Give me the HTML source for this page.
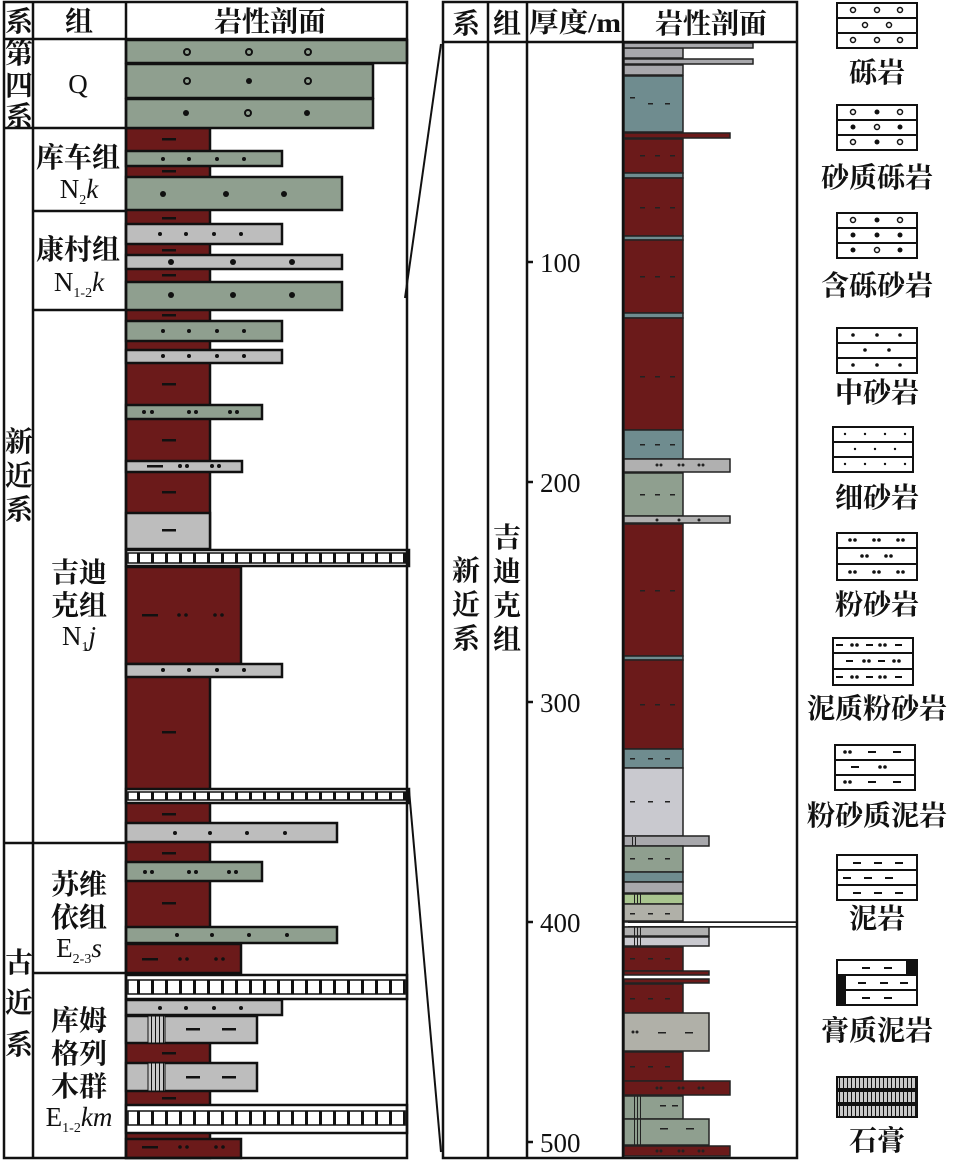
<!DOCTYPE html>
<html><head><meta charset="utf-8"><style>
html,body{margin:0;padding:0;background:#fff;}
svg{display:block;}
text{font-family:"Liberation Serif","Noto Serif CJK SC",serif;fill:#111;}
</style></head><body>
<svg width="954" height="1160" viewBox="0 0 954 1160" xmlns="http://www.w3.org/2000/svg">
<defs>
<pattern id="gy" x="0" y="0" width="14" height="10" patternUnits="userSpaceOnUse">
<rect width="14" height="10" fill="#fff"/><rect x="11" width="3" height="10" fill="#111"/>
</pattern>
<pattern id="gy2" x="0" y="0" width="4" height="6" patternUnits="userSpaceOnUse">
<rect width="4" height="6" fill="#c8c8c8"/><rect x="3" width="1" height="6" fill="#111"/>
</pattern>
</defs>
<g stroke="#111" stroke-width="2.5">
<rect x="126" y="128" width="84" height="1030" fill="#6b1a1a"/>
<g stroke-width="2.5">
<rect x="126" y="40" width="281" height="23" fill="#8f9f8f"/>
<rect x="126" y="64" width="247" height="34" fill="#8f9f8f"/>
<rect x="126" y="99" width="247" height="29" fill="#8f9f8f"/>
<rect x="126" y="151" width="156" height="15" fill="#8f9f8f"/>
<rect x="126" y="177" width="216" height="33" fill="#8f9f8f"/>
<rect x="126" y="224" width="156" height="20" fill="#bdbdbd"/>
<rect x="126" y="255" width="216" height="14" fill="#bdbdbd"/>
<rect x="126" y="282" width="216" height="28" fill="#8f9f8f"/>
<rect x="126" y="321" width="156" height="20" fill="#8f9f8f"/>
<rect x="126" y="350" width="156" height="13" fill="#bdbdbd"/>
<rect x="126" y="405" width="136" height="14" fill="#8f9f8f"/>
<rect x="126" y="461" width="116" height="11" fill="#bdbdbd"/>
<rect x="126" y="513" width="84" height="36" fill="#bdbdbd"/>
<rect x="126" y="567" width="115" height="97" fill="#6b1a1a"/>
<rect x="126" y="664" width="156" height="13" fill="#bdbdbd"/>
<rect x="126" y="823" width="211" height="19" fill="#bdbdbd"/>
<rect x="126" y="862" width="136" height="19" fill="#8f9f8f"/>
<rect x="126" y="927" width="211" height="16" fill="#8f9f8f"/>
<rect x="126" y="944" width="115" height="29" fill="#6b1a1a"/>
<rect x="126" y="1000" width="156" height="15" fill="#bdbdbd"/>
<rect x="126" y="1016" width="131" height="27" fill="#bdbdbd"/>
<rect x="126" y="1063" width="131" height="28" fill="#bdbdbd"/>
<rect x="126" y="1139" width="115" height="19" fill="#6b1a1a"/>
<rect x="126" y="550" width="283" height="16" fill="#fff"/>
<rect x="128" y="553" width="279" height="10" fill="url(#gy)" stroke-width="1.5"/>
<rect x="126" y="789" width="283" height="14" fill="#fff"/>
<rect x="128" y="792" width="279" height="8" fill="url(#gy)" stroke-width="1.5"/>
<rect x="126" y="975" width="281" height="24" fill="#fff"/>
<rect x="128" y="980" width="277" height="14" fill="url(#gy)" stroke-width="1.5"/>
<rect x="126" y="1105" width="281" height="28" fill="#fff"/>
<rect x="128" y="1111" width="277" height="14" fill="url(#gy)" stroke-width="1.5"/>
</g>
<rect x="148" y="1016" width="17" height="27" fill="url(#gy2)" stroke-width="1"/>
<rect x="148" y="1063" width="17" height="28" fill="url(#gy2)" stroke-width="1"/>
<g fill="none">
<rect x="4" y="2" width="403" height="1156"/>
<line x1="4" y1="39" x2="407" y2="39"/>
<line x1="33" y1="2" x2="33" y2="1158"/>
<line x1="126" y1="2" x2="126" y2="1158"/>
<line x1="4" y1="128" x2="126" y2="128"/>
<line x1="33" y1="211" x2="126" y2="211"/>
<line x1="33" y1="310" x2="126" y2="310"/>
<line x1="4" y1="843" x2="126" y2="843"/>
<line x1="33" y1="973" x2="126" y2="973"/>
</g>
</g>
<g fill="#111" stroke="none">
<g fill="none" stroke="#111" stroke-width="2"><circle cx="187" cy="52" r="3"/><circle cx="249" cy="52" r="3"/><circle cx="308" cy="52" r="3"/><circle cx="187" cy="81" r="3"/><circle cx="308" cy="81" r="3"/><circle cx="248" cy="113" r="3"/></g>
<circle cx="249" cy="81" r="3"/><circle cx="186" cy="113" r="3"/><circle cx="307" cy="113" r="3"/>
<circle cx="163" cy="159" r="2"/><circle cx="189" cy="159" r="2"/><circle cx="217" cy="159" r="2"/><circle cx="244" cy="159" r="2"/>
<circle cx="163" cy="194" r="3"/><circle cx="226" cy="194" r="3"/><circle cx="284" cy="194" r="3"/>
<circle cx="160" cy="234" r="2"/><circle cx="186" cy="234" r="2"/><circle cx="214" cy="234" r="2"/><circle cx="241" cy="234" r="2"/>
<circle cx="171" cy="262" r="3"/><circle cx="233" cy="262" r="3"/><circle cx="292" cy="262" r="3"/>
<circle cx="171" cy="295" r="3"/><circle cx="233" cy="295" r="3"/><circle cx="292" cy="295" r="3"/>
<circle cx="163" cy="331" r="2"/><circle cx="189" cy="331" r="2"/><circle cx="217" cy="331" r="2"/><circle cx="244" cy="331" r="2"/>
<circle cx="163" cy="356" r="2"/><circle cx="189" cy="356" r="2"/><circle cx="217" cy="356" r="2"/><circle cx="244" cy="356" r="2"/>
<circle cx="144" cy="412" r="2"/><circle cx="152" cy="412" r="2"/><circle cx="189" cy="412" r="2"/><circle cx="196" cy="412" r="2"/><circle cx="230" cy="412" r="2"/><circle cx="237" cy="412" r="2"/>
<circle cx="180" cy="466" r="2"/><circle cx="187" cy="466" r="2"/><circle cx="212" cy="466" r="2"/><circle cx="219" cy="466" r="2"/>
<circle cx="179" cy="615" r="1.8"/><circle cx="186" cy="615" r="1.8"/><circle cx="215" cy="615" r="1.8"/><circle cx="222" cy="615" r="1.8"/>
<circle cx="163" cy="670" r="2"/><circle cx="189" cy="670" r="2"/><circle cx="217" cy="670" r="2"/><circle cx="244" cy="670" r="2"/>
<circle cx="175" cy="833" r="2"/><circle cx="210" cy="833" r="2"/><circle cx="247" cy="833" r="2"/><circle cx="285" cy="833" r="2"/>
<circle cx="145" cy="872" r="2"/><circle cx="152" cy="872" r="2"/><circle cx="189" cy="872" r="2"/><circle cx="196" cy="872" r="2"/><circle cx="229" cy="872" r="2"/><circle cx="236" cy="872" r="2"/>
<circle cx="177" cy="935" r="2"/><circle cx="212" cy="935" r="2"/><circle cx="249" cy="935" r="2"/><circle cx="287" cy="935" r="2"/>
<circle cx="180" cy="959" r="1.8"/><circle cx="187" cy="959" r="1.8"/><circle cx="216" cy="959" r="1.8"/><circle cx="223" cy="959" r="1.8"/>
<circle cx="160" cy="1008" r="2"/><circle cx="186" cy="1008" r="2"/><circle cx="214" cy="1008" r="2"/><circle cx="241" cy="1008" r="2"/>
<circle cx="180" cy="1147" r="1.8"/><circle cx="187" cy="1147" r="1.8"/><circle cx="216" cy="1147" r="1.8"/><circle cx="223" cy="1147" r="1.8"/>
<rect x="162" y="138" width="14" height="2.5"/><rect x="162" y="170" width="14" height="2.5"/><rect x="162" y="217" width="14" height="2.5"/><rect x="162" y="249" width="14" height="2.5"/><rect x="162" y="274" width="14" height="2.5"/><rect x="162" y="314" width="14" height="2.5"/><rect x="162" y="383" width="14" height="2.5"/><rect x="162" y="439" width="14" height="2.5"/><rect x="147" y="465" width="16" height="2.5"/><rect x="162" y="491" width="14" height="2.5"/><rect x="162" y="529" width="14" height="2.5"/><rect x="142" y="614" width="16" height="2.5"/><rect x="162" y="731" width="14" height="2.5"/><rect x="162" y="813" width="14" height="2.5"/><rect x="162" y="852" width="14" height="2.5"/><rect x="162" y="902" width="14" height="2.5"/><rect x="142" y="958" width="16" height="2.5"/><rect x="186" y="1028" width="14" height="2.5"/><rect x="222" y="1028" width="14" height="2.5"/><rect x="162" y="1052" width="14" height="2.5"/><rect x="186" y="1076" width="14" height="2.5"/><rect x="222" y="1076" width="14" height="2.5"/><rect x="162" y="1097" width="14" height="2.5"/><rect x="142" y="1146" width="16" height="2.5"/>
</g>
<g font-size="28" font-weight="bold" text-anchor="middle">
<text x="19" y="31">系</text><text x="79" y="31">组</text><text x="270" y="31">岩性剖面</text>
<text x="19" y="63">第</text><text x="19" y="95">四</text><text x="19" y="126">系</text>
<text x="19" y="451">新</text><text x="19" y="485">近</text><text x="19" y="519">系</text>
<text x="19" y="972">古</text><text x="19" y="1012">近</text><text x="19" y="1054">系</text>
<text x="78" y="167">库车组</text>
<text x="78" y="259">康村组</text>
<text x="79" y="582">吉迪</text><text x="79" y="615">克组</text>
<text x="79" y="894">苏维</text><text x="79" y="927">依组</text>
<text x="79" y="1030">库姆</text><text x="79" y="1063">格列</text><text x="79" y="1096">木群</text>
</g>
<g font-size="27" text-anchor="middle">
<text x="78" y="93">Q</text>
<text x="79" y="198">N<tspan font-size="14" dy="6">2</tspan><tspan font-style="italic" dy="-6">k</tspan></text>
<text x="79" y="291">N<tspan font-size="14" dy="6">1-2</tspan><tspan font-style="italic" dy="-6">k</tspan></text>
<text x="79" y="645">N<tspan font-size="14" dy="6">1</tspan><tspan font-style="italic" dy="-6">j</tspan></text>
<text x="79" y="957">E<tspan font-size="14" dy="6">2-3</tspan><tspan font-style="italic" dy="-6">s</tspan></text>
<text x="79" y="1126">E<tspan font-size="14" dy="6">1-2</tspan><tspan font-style="italic" dy="-6">km</tspan></text>
</g>
<g stroke="#111" stroke-width="2"><line x1="405" y1="298" x2="441" y2="44"/><line x1="409" y1="790" x2="441" y2="1152"/></g>
<g stroke="#222" stroke-width="1.5">
<rect x="624" y="48" width="59" height="10" fill="#a8a8ac"/>
<rect x="624" y="65" width="59" height="10" fill="#a8a8ac"/>
<rect x="624" y="43" width="129" height="5" fill="#a8a8ac"/>
<rect x="624" y="59" width="129" height="5" fill="#a8a8ac"/>
<rect x="624" y="76" width="59" height="56" fill="#6f8c8f"/>
<rect x="624" y="133" width="106" height="5" fill="#6b1a1a"/>
<rect x="624" y="139" width="59" height="34" fill="#6b1a1a"/>
<rect x="624" y="173" width="59" height="5" fill="#6f8c8f"/>
<rect x="624" y="178" width="59" height="58" fill="#6b1a1a"/>
<rect x="624" y="236" width="59" height="4" fill="#6f8c8f"/>
<rect x="624" y="240" width="59" height="73" fill="#6b1a1a"/>
<rect x="624" y="313" width="59" height="5" fill="#6f8c8f"/>
<rect x="624" y="318" width="59" height="112" fill="#6b1a1a"/>
<rect x="624" y="430" width="59" height="29" fill="#6f8c8f"/>
<rect x="624" y="459" width="106" height="13" fill="#b0b0b0"/>
<rect x="624" y="473" width="59" height="43" fill="#8f9f8f"/>
<rect x="624" y="516" width="106" height="7" fill="#b0b0b0"/>
<rect x="624" y="524" width="59" height="132" fill="#6b1a1a"/>
<rect x="624" y="656" width="59" height="4" fill="#6f8c8f"/>
<rect x="624" y="660" width="59" height="89" fill="#6b1a1a"/>
<rect x="624" y="749" width="59" height="19" fill="#6f8c8f"/>
<rect x="624" y="768" width="59" height="68" fill="#c9c9cf"/>
<rect x="624" y="836" width="85" height="10" fill="#a8a8ac"/>
<rect x="624" y="846" width="59" height="26" fill="#8f9f8f"/>
<rect x="624" y="872" width="59" height="10" fill="#6f8c8f"/>
<rect x="624" y="882" width="59" height="11" fill="#a8a8ac"/>
<rect x="624" y="894" width="59" height="10" fill="#a9c58f"/>
<rect x="624" y="904" width="59" height="17" fill="#b0b0a8"/>
<rect x="624" y="922" width="173" height="5" fill="#fff"/>
<rect x="624" y="927" width="85" height="9" fill="#b0b0b0"/>
<rect x="624" y="937" width="85" height="9" fill="#c9c9cf"/>
<rect x="624" y="947" width="59" height="24" fill="#6b1a1a"/>
<rect x="624" y="971" width="85" height="4" fill="#6b1a1a"/>
<rect x="624" y="979" width="85" height="4" fill="#6b1a1a"/>
<rect x="624" y="984" width="59" height="29" fill="#6b1a1a"/>
<rect x="624" y="1013" width="85" height="38" fill="#b0b0a8"/>
<rect x="624" y="1052" width="59" height="29" fill="#6b1a1a"/>
<rect x="624" y="1081" width="106" height="14" fill="#6b1a1a"/>
<rect x="624" y="1096" width="59" height="23" fill="#8f9f8f"/>
<rect x="624" y="1119" width="85" height="26" fill="#8f9f8f"/>
<rect x="624" y="1146" width="106" height="10" fill="#6b1a1a"/>
</g>
<g fill="#222">
<rect x="628" y="922" width="169" height="1"/><rect x="628" y="926" width="169" height="1"/>
<rect x="632" y="837" width="1" height="9"/><rect x="635" y="837" width="1" height="9"/>
<rect x="634" y="894" width="1" height="10"/><rect x="637" y="894" width="1" height="10"/><rect x="640" y="894" width="1" height="10"/>
<rect x="634" y="927" width="1" height="19"/><rect x="637" y="927" width="1" height="19"/><rect x="640" y="927" width="1" height="19"/>
<rect x="634" y="1096" width="1" height="50"/><rect x="637" y="1096" width="1" height="50"/><rect x="640" y="1096" width="1" height="50"/>
<rect x="630" y="97" width="5" height="1.5"/><rect x="648" y="103" width="5" height="1.5"/><rect x="665" y="103" width="5" height="1.5"/>
<rect x="640" y="155" width="5" height="1.5"/><rect x="655" y="155" width="5" height="1.5"/><rect x="670" y="155" width="5" height="1.5"/>
<rect x="640" y="207" width="5" height="1.5"/><rect x="655" y="207" width="5" height="1.5"/><rect x="670" y="207" width="5" height="1.5"/>
<rect x="640" y="276" width="5" height="1.5"/><rect x="655" y="276" width="5" height="1.5"/><rect x="670" y="276" width="5" height="1.5"/>
<rect x="640" y="376" width="5" height="1.5"/><rect x="655" y="376" width="5" height="1.5"/><rect x="670" y="376" width="5" height="1.5"/>
<rect x="640" y="444" width="5" height="1.5"/><rect x="655" y="444" width="5" height="1.5"/><rect x="670" y="444" width="5" height="1.5"/>
<rect x="640" y="494" width="5" height="1.5"/><rect x="655" y="494" width="5" height="1.5"/><rect x="670" y="494" width="5" height="1.5"/>
<rect x="640" y="590" width="5" height="1.5"/><rect x="655" y="590" width="5" height="1.5"/><rect x="670" y="590" width="5" height="1.5"/>
<rect x="640" y="704" width="5" height="1.5"/><rect x="655" y="704" width="5" height="1.5"/><rect x="670" y="704" width="5" height="1.5"/>
<rect x="630" y="758" width="5" height="1.5"/><rect x="648" y="758" width="5" height="1.5"/><rect x="665" y="758" width="5" height="1.5"/>
<rect x="630" y="801" width="5" height="1.5"/><rect x="648" y="801" width="5" height="1.5"/><rect x="665" y="801" width="5" height="1.5"/>
<rect x="630" y="858" width="5" height="1.5"/><rect x="648" y="858" width="5" height="1.5"/><rect x="665" y="858" width="5" height="1.5"/>
<rect x="630" y="913" width="5" height="1.5"/><rect x="648" y="913" width="5" height="1.5"/><rect x="665" y="913" width="5" height="1.5"/>
<rect x="630" y="958" width="5" height="1.5"/><rect x="648" y="958" width="5" height="1.5"/><rect x="665" y="958" width="5" height="1.5"/>
<rect x="630" y="998" width="5" height="1.5"/><rect x="648" y="998" width="5" height="1.5"/><rect x="665" y="998" width="5" height="1.5"/>
<rect x="630" y="1066" width="5" height="1.5"/><rect x="648" y="1066" width="5" height="1.5"/><rect x="665" y="1066" width="5" height="1.5"/>
<rect x="658" y="1032" width="8" height="1.5"/><rect x="685" y="1032" width="8" height="1.5"/>
<circle cx="633" cy="1032" r="1.5"/><circle cx="637" cy="1032" r="1.5"/>
<circle cx="657" cy="1088" r="1.5"/><circle cx="661" cy="1088" r="1.5"/><circle cx="679" cy="1088" r="1.5"/><circle cx="683" cy="1088" r="1.5"/><circle cx="699" cy="1088" r="1.5"/><circle cx="703" cy="1088" r="1.5"/>
<circle cx="657" cy="1151" r="1.5"/><circle cx="661" cy="1151" r="1.5"/><circle cx="679" cy="1151" r="1.5"/><circle cx="683" cy="1151" r="1.5"/><circle cx="699" cy="1151" r="1.5"/><circle cx="703" cy="1151" r="1.5"/>
<circle cx="657" cy="465" r="1.5"/><circle cx="661" cy="465" r="1.5"/><circle cx="679" cy="465" r="1.5"/><circle cx="683" cy="465" r="1.5"/><circle cx="699" cy="465" r="1.5"/><circle cx="703" cy="465" r="1.5"/>
<circle cx="657" cy="520" r="1.5"/><circle cx="679" cy="520" r="1.5"/><circle cx="699" cy="520" r="1.5"/>
<rect x="660" y="1128" width="8" height="1.5"/><rect x="686" y="1128" width="8" height="1.5"/>
<rect x="660" y="1105" width="6" height="1.5"/><rect x="672" y="1105" width="6" height="1.5"/>
</g>
<g stroke="#111" stroke-width="2.5" fill="none">
<rect x="443" y="2" width="354" height="1156"/>
<line x1="443" y1="42" x2="797" y2="42"/>
<line x1="488" y1="2" x2="488" y2="1158"/>
<line x1="527" y1="2" x2="527" y2="1158"/>
<line x1="623" y1="2" x2="623" y2="1158"/>
<line x1="527" y1="262" x2="533" y2="262"/><line x1="527" y1="482" x2="533" y2="482"/><line x1="527" y1="702" x2="533" y2="702"/><line x1="527" y1="922" x2="533" y2="922"/><line x1="527" y1="1142" x2="533" y2="1142"/>
</g>
<g font-size="28" font-weight="bold" text-anchor="middle">
<text x="466" y="33">系</text><text x="507" y="33">组</text><text x="711" y="33">岩性剖面</text>
<text x="466" y="580">新</text><text x="466" y="614">近</text><text x="466" y="648">系</text>
<text x="507" y="547">吉</text><text x="507" y="581">迪</text><text x="507" y="615">克</text><text x="507" y="649">组</text>
</g>
<g font-size="27">
<text x="529" y="32" font-weight="bold" textLength="92" lengthAdjust="spacingAndGlyphs">厚度/m</text>
<text x="540" y="272">100</text><text x="540" y="492">200</text><text x="540" y="712">300</text><text x="540" y="932">400</text><text x="540" y="1152">500</text>
</g>
<g stroke="#111" stroke-width="2" fill="#fff">
<rect x="837" y="3" width="80" height="45"/><line x1="837" y1="18" x2="917" y2="18"/><line x1="837" y1="33" x2="917" y2="33"/>
<rect x="837" y="105" width="80" height="45"/><line x1="837" y1="120" x2="917" y2="120"/><line x1="837" y1="135" x2="917" y2="135"/>
<rect x="837" y="213" width="80" height="45"/><line x1="837" y1="228" x2="917" y2="228"/><line x1="837" y1="243" x2="917" y2="243"/>
<rect x="837" y="328" width="80" height="45"/><line x1="837" y1="343" x2="917" y2="343"/><line x1="837" y1="358" x2="917" y2="358"/>
<rect x="833" y="427" width="80" height="45"/><line x1="833" y1="442" x2="913" y2="442"/><line x1="833" y1="457" x2="913" y2="457"/>
<rect x="837" y="533" width="80" height="47"/><line x1="837" y1="548" x2="917" y2="548"/><line x1="837" y1="564" x2="917" y2="564"/>
<rect x="833" y="638" width="80" height="47"/><line x1="833" y1="653" x2="913" y2="653"/><line x1="833" y1="669" x2="913" y2="669"/>
<rect x="835" y="745" width="80" height="45"/><line x1="835" y1="760" x2="915" y2="760"/><line x1="835" y1="775" x2="915" y2="775"/>
<rect x="837" y="855" width="80" height="45"/><line x1="837" y1="870" x2="917" y2="870"/><line x1="837" y1="885" x2="917" y2="885"/>
<rect x="837" y="960" width="80" height="45"/><line x1="837" y1="975" x2="917" y2="975"/><line x1="837" y1="990" x2="917" y2="990"/>
<rect x="837" y="1077" width="80" height="40" fill="url(#gy2)"/><line x1="837" y1="1090" x2="917" y2="1090" stroke-width="4"/><line x1="837" y1="1104" x2="917" y2="1104" stroke-width="4"/>
</g>
<g fill="#111">
<rect x="838" y="976" width="8" height="14"/><rect x="906" y="961" width="10" height="14"/><rect x="838" y="991" width="8" height="14"/>
</g>
<g fill="none" stroke="#111" stroke-width="1.5">
<circle cx="853" cy="10" r="2.5"/><circle cx="877" cy="10" r="2.5"/><circle cx="900" cy="10" r="2.5"/><circle cx="865" cy="25" r="2.5"/><circle cx="889" cy="25" r="2.5"/><circle cx="853" cy="40" r="2.5"/><circle cx="877" cy="40" r="2.5"/><circle cx="900" cy="40" r="2.5"/>
<circle cx="853" cy="112" r="2.5"/><circle cx="900" cy="112" r="2.5"/><circle cx="853" cy="142" r="2.5"/><circle cx="900" cy="142" r="2.5"/><circle cx="877" cy="127" r="2.5"/>
<circle cx="853" cy="220" r="2.5"/><circle cx="900" cy="220" r="2.5"/><circle cx="877" cy="250" r="2.5"/>
</g>
<g fill="#111">
<circle cx="877" cy="112" r="2.5"/><circle cx="877" cy="142" r="2.5"/><circle cx="853" cy="127" r="2.5"/><circle cx="900" cy="127" r="2.5"/>
<circle cx="877" cy="220" r="2.5"/><circle cx="853" cy="235" r="2.5"/><circle cx="877" cy="235" r="2.5"/><circle cx="900" cy="235" r="2.5"/><circle cx="853" cy="250" r="2.5"/><circle cx="900" cy="250" r="2.5"/>
<circle cx="853" cy="335" r="1.8"/><circle cx="877" cy="335" r="1.8"/><circle cx="900" cy="335" r="1.8"/><circle cx="865" cy="350" r="1.8"/><circle cx="889" cy="350" r="1.8"/><circle cx="853" cy="365" r="1.8"/><circle cx="877" cy="365" r="1.8"/><circle cx="900" cy="365" r="1.8"/>
<circle cx="845" cy="434" r="1.2"/><circle cx="865" cy="434" r="1.2"/><circle cx="885" cy="434" r="1.2"/><circle cx="905" cy="434" r="1.2"/><circle cx="855" cy="449" r="1.2"/><circle cx="875" cy="449" r="1.2"/><circle cx="895" cy="449" r="1.2"/><circle cx="845" cy="464" r="1.2"/><circle cx="865" cy="464" r="1.2"/><circle cx="885" cy="464" r="1.2"/><circle cx="905" cy="464" r="1.2"/>
<circle cx="850" cy="540" r="1.8"/><circle cx="855" cy="540" r="1.8"/><circle cx="874" cy="540" r="1.8"/><circle cx="879" cy="540" r="1.8"/><circle cx="898" cy="540" r="1.8"/><circle cx="903" cy="540" r="1.8"/>
<circle cx="862" cy="556" r="1.8"/><circle cx="867" cy="556" r="1.8"/><circle cx="886" cy="556" r="1.8"/><circle cx="891" cy="556" r="1.8"/>
<circle cx="850" cy="572" r="1.8"/><circle cx="855" cy="572" r="1.8"/><circle cx="874" cy="572" r="1.8"/><circle cx="879" cy="572" r="1.8"/><circle cx="898" cy="572" r="1.8"/><circle cx="903" cy="572" r="1.8"/>
<rect x="836" y="644" width="7" height="2"/><circle cx="852" cy="645" r="1.8"/><circle cx="857" cy="645" r="1.8"/><rect x="866" y="644" width="7" height="2"/><circle cx="880" cy="645" r="1.8"/><circle cx="885" cy="645" r="1.8"/><rect x="895" y="644" width="7" height="2"/>
<rect x="846" y="660" width="7" height="2"/><circle cx="864" cy="661" r="1.8"/><circle cx="869" cy="661" r="1.8"/><rect x="878" y="660" width="7" height="2"/><circle cx="894" cy="661" r="1.8"/><circle cx="899" cy="661" r="1.8"/>
<rect x="836" y="676" width="7" height="2"/><circle cx="852" cy="677" r="1.8"/><circle cx="857" cy="677" r="1.8"/><rect x="866" y="676" width="7" height="2"/><circle cx="880" cy="677" r="1.8"/><circle cx="885" cy="677" r="1.8"/><rect x="895" y="676" width="7" height="2"/>
<circle cx="845" cy="752" r="1.8"/><circle cx="850" cy="752" r="1.8"/><rect x="868" y="751" width="8" height="2"/><rect x="893" y="751" width="8" height="2"/>
<rect x="851" y="766" width="8" height="2"/><circle cx="880" cy="767" r="1.8"/><circle cx="885" cy="767" r="1.8"/>
<circle cx="845" cy="782" r="1.8"/><circle cx="850" cy="782" r="1.8"/><rect x="868" y="781" width="8" height="2"/><rect x="893" y="781" width="8" height="2"/>
<rect x="853" y="862" width="8" height="2"/><rect x="874" y="862" width="8" height="2"/><rect x="895" y="862" width="8" height="2"/>
<rect x="843" y="877" width="8" height="2"/><rect x="864" y="877" width="8" height="2"/><rect x="885" y="877" width="8" height="2"/>
<rect x="853" y="892" width="8" height="2"/><rect x="874" y="892" width="8" height="2"/><rect x="895" y="892" width="8" height="2"/>
<rect x="862" y="967" width="8" height="2"/><rect x="884" y="967" width="8" height="2"/>
<rect x="858" y="982" width="8" height="2"/><rect x="880" y="982" width="8" height="2"/><rect x="900" y="982" width="8" height="2"/>
<rect x="862" y="997" width="8" height="2"/><rect x="884" y="997" width="8" height="2"/>
</g>
<g font-size="28" font-weight="bold" text-anchor="middle">
<text x="877" y="82">砾岩</text>
<text x="877" y="187">砂质砾岩</text>
<text x="877" y="295">含砾砂岩</text>
<text x="877" y="402">中砂岩</text>
<text x="877" y="507">细砂岩</text>
<text x="877" y="614">粉砂岩</text>
<text x="877" y="718">泥质粉砂岩</text>
<text x="877" y="825">粉砂质泥岩</text>
<text x="877" y="928">泥岩</text>
<text x="877" y="1040">膏质泥岩</text>
<text x="877" y="1150">石膏</text>
</g>
</svg>
</body></html>
